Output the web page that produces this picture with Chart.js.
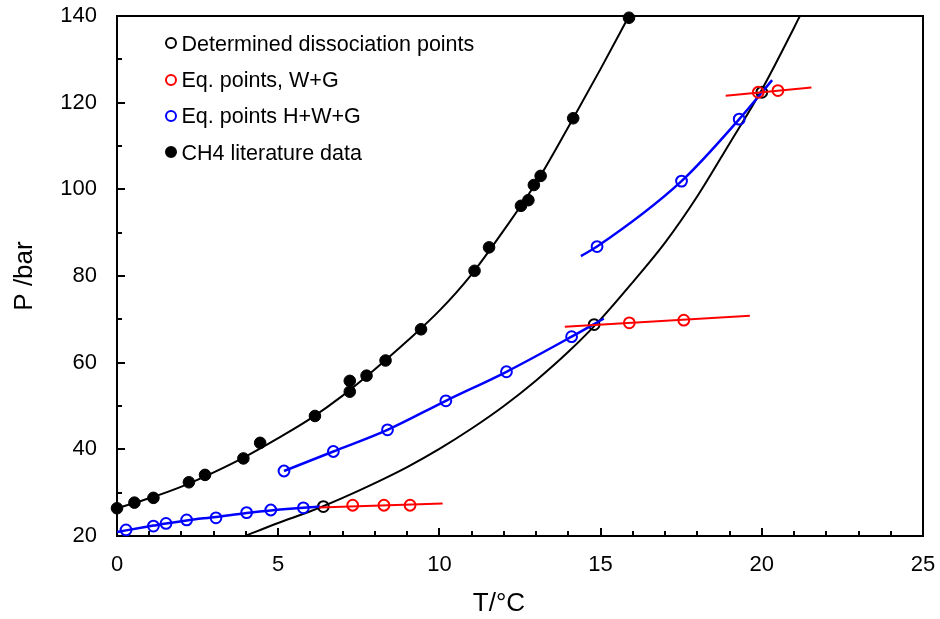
<!DOCTYPE html>
<html>
<head>
<meta charset="utf-8">
<script src="https://cdn.jsdelivr.net/npm/chart.js@4.4.1/dist/chart.umd.min.js"></script>
<style>
  html, body { margin: 0; padding: 0; background: #fff; }
  #wrap { position: relative; width: 940px; height: 619px; font-family: "Liberation Sans", Arial, sans-serif; }
  #c { position: absolute; left: 0; top: 0; }
  .leg { position: absolute; font-size: 21.5px; line-height: 22px; white-space: nowrap; color: #000; }
  .mk { position: absolute; width: 12px; height: 12px; box-sizing: border-box; border-radius: 50%; border: 2px solid #000; }
  #xtitle { position: absolute; font-size: 26px; line-height: 26px; white-space: nowrap; transform: translateX(-50%); }
</style>
</head>
<body>
<div id="wrap">
  <canvas id="c" width="940" height="619"></canvas>
  <div id="legend"></div>
  <div id="xtitle" style="left:499px; top:589px;">T/°C</div>
</div>
<script>
// ---------- data ----------
// axis ticks
const xTicks = [0, 5, 10, 15, 20, 25];
const yTicks = [20, 40, 60, 80, 100, 120, 140];

// CH4 literature data (filled black)
const litT = [0.0, 0.54, 1.13, 2.23, 2.73, 3.92, 4.44, 6.14, 7.22, 7.22, 7.74, 8.33, 9.43, 11.09, 11.54, 12.53, 12.76, 12.93, 13.14, 14.15, 15.88];
const litP = [26.4, 27.7, 28.8, 32.4, 34.1, 37.9, 41.5, 47.7, 53.3, 55.8, 57.0, 60.5, 67.7, 81.2, 86.6, 96.2, 97.5, 101.0, 103.1, 116.4, 139.6];

// Determined dissociation points (open black)
const detT = [6.40, 14.80, 20.00];
const detP = [26.8, 68.8, 122.4];

// Eq. points, W+G (open red)
const wgT = [7.31, 8.28, 9.09, 15.89, 17.58, 19.89, 20.50];
const wgP = [27.1, 27.1, 27.1, 69.2, 69.8, 122.4, 122.8];

// Eq. points H+W+G (open blue)
const hwgT = [0.28, 1.13, 1.52, 2.16, 3.07, 4.02, 4.77, 5.78, 5.18, 6.71, 8.39, 10.20, 12.08, 14.10, 14.89, 17.51, 19.30];
const hwgP = [21.4, 22.3, 22.9, 23.7, 24.2, 25.4, 26.0, 26.5, 35.0, 39.5, 44.5, 51.2, 57.9, 66.0, 86.8, 101.9, 116.2];

// curves
const litCurveT = [0, 1, 2, 3, 4, 5, 6, 7, 8, 9, 10, 11, 12, 13, 14, 15, 15.88];
const litCurveP = [26.4, 28.7, 31.4, 34.7, 38.4, 42.6, 47.1, 52.4, 58.5, 65.0, 72.0, 80.4, 90.6, 101.5, 114.4, 127.8, 140];

const detCurveT = [3.97, 5, 6, 7, 8, 9, 10, 11, 12, 13, 14, 15, 16, 17, 18, 19, 20, 21, 21.18];
const detCurveP = [20.0, 23.0, 25.7, 28.8, 32.2, 35.9, 40.1, 44.8, 50.0, 55.9, 62.5, 70.0, 78.6, 87.7, 98.4, 110.6, 123.0, 137.3, 140];

const blue1T = [0, 0.28, 1.13, 1.52, 2.16, 3.07, 4.02, 4.77, 5.78, 6.30];
const blue1P = [20.9, 21.3, 22.4, 22.9, 23.6, 24.4, 25.3, 25.9, 26.5, 26.8];
const blue2T = [5.18, 6.71, 8.39, 10.20, 12.08, 14.10, 15.10];
const blue2P = [35.0, 39.5, 44.5, 51.2, 57.9, 66.0, 70.2];
const blue3T = [14.39, 14.89, 17.51, 19.30, 20.32];
const blue3P = [84.6, 86.8, 101.9, 116.2, 125.2];

const red1T = [6.27, 10.10];
const red1P = [26.6, 27.5];
const red2T = [13.89, 19.63];
const red2P = [68.3, 70.8];
const red3T = [18.88, 21.54];
const red3P = [121.6, 123.5];

const legendLabels = ["Determined dissociation points", "Eq. points, W+G", "Eq. points H+W+G", "CH4 literature data"];

// ---------- build ----------
const pts = (xs, ys) => xs.map((x, i) => ({ x: x, y: ys[i] }));
const FONT = '"Liberation Sans", Arial, sans-serif';

function lineDs(xs, ys, color, w, order) {
  return { type: 'line', data: pts(xs, ys), borderColor: color, borderWidth: w, pointRadius: 0,
    fill: false, cubicInterpolationMode: 'monotone', showLine: true, order: order, clip: false };
}
function markDs(xs, ys, color, filled, order) {
  return { type: 'scatter', data: pts(xs, ys), showLine: false,
    pointRadius: filled ? 5.8 : 5.4, pointBorderWidth: filled ? 1 : 2,
    pointBorderColor: color, pointBackgroundColor: filled ? color : 'rgba(0,0,0,0)',
    borderColor: color, backgroundColor: filled ? color : 'rgba(0,0,0,0)', order: order, clip: false };
}

const datasets = [
  markDs(litT, litP, '#000000', true, 0),
  markDs(hwgT, hwgP, '#0000FF', false, 1),
  markDs(wgT, wgP, '#FF0000', false, 2),
  lineDs(red1T, red1P, '#FF0000', 2, 3),
  lineDs(red2T, red2P, '#FF0000', 2, 4),
  lineDs(red3T, red3P, '#FF0000', 2, 5),
  lineDs(blue1T, blue1P, '#0000FF', 2.5, 6),
  lineDs(blue2T, blue2P, '#0000FF', 2.5, 7),
  lineDs(blue3T, blue3P, '#0000FF', 2.5, 8),
  markDs(detT, detP, '#000000', false, 9),
  lineDs(litCurveT, litCurveP, '#000000', 2, 10),
  lineDs(detCurveT, detCurveP, '#000000', 2, 11)
];

const framePlugin = {
  id: 'frame',
  beforeDatasetsDraw(chart) {
    const ctx = chart.ctx, a = chart.chartArea;
    const xs = chart.scales.x, ys = chart.scales.y;
    ctx.save();
    ctx.strokeStyle = '#000';
    ctx.lineWidth = 2;
    ctx.beginPath();
    for (let v = xs.min; v <= xs.max; v += 1) {
      const px = Math.round(xs.getPixelForValue(v));
      const len = xTicks.includes(v) ? 8 : 5;
      ctx.moveTo(px, a.bottom);
      ctx.lineTo(px, a.bottom - len);
    }
    for (let v = ys.min; v <= ys.max; v += 10) {
      const py = Math.round(ys.getPixelForValue(v));
      const len = yTicks.includes(v) ? 8 : 5;
      ctx.moveTo(a.left, py);
      ctx.lineTo(a.left + len, py);
    }
    ctx.stroke();
    ctx.strokeRect(a.left, a.top, a.right - a.left, a.bottom - a.top);
    ctx.restore();
  }
};

new Chart(document.getElementById('c'), {
  type: 'scatter',
  data: { datasets: datasets },
  options: {
    responsive: false,
    animation: false,
    events: [],
    layout: { padding: { left: 0, top: 16, right: 17, bottom: 0 } },
    plugins: { legend: { display: false }, tooltip: { enabled: false } },
    scales: {
      x: {
        type: 'linear', min: 0, max: 25,
        grid: { display: false, drawTicks: false },
        border: { display: false },
        ticks: { stepSize: 5, padding: 16, color: '#000', font: { family: FONT, size: 22 },
          callback: (v) => xTicks.includes(v) ? String(v) : '' },
        afterFit: (s) => { s.height = 83; s.paddingLeft = 0; s.paddingRight = 0; }
      },
      y: {
        type: 'linear', min: 20, max: 140,
        grid: { display: false, drawTicks: false },
        border: { display: false },
        ticks: { stepSize: 20, padding: 20, color: '#000', font: { family: FONT, size: 22 },
          callback: (v) => yTicks.includes(v) ? String(v) : '' },
        title: { display: true, text: 'P /bar', color: '#000', font: { family: FONT, size: 26 }, padding: { top: 9, bottom: 0 } },
        afterFit: (s) => { s.width = 117; s.paddingTop = 0; s.paddingBottom = 0; }
      }
    }
  },
  plugins: [framePlugin]
});

// ---------- legend (inside plot area, top-left) ----------
const legendColors = ['#000000', '#FF0000', '#0000FF', '#000000'];
const legendFilled = [false, false, false, true];
const rowY = [43.3, 80, 115.7, 152.3];
const legEl = document.getElementById('legend');
legendLabels.forEach((lab, i) => {
  const m = document.createElement('div');
  m.className = 'mk';
  m.style.left = '165px';
  m.style.top = (rowY[i] - 6) + 'px';
  m.style.borderColor = legendColors[i];
  if (legendFilled[i]) m.style.background = legendColors[i];
  legEl.appendChild(m);
  const t = document.createElement('div');
  t.className = 'leg';
  t.style.left = '181.5px';
  t.style.top = (rowY[i] - 10.8) + 'px';
  t.textContent = lab;
  legEl.appendChild(t);
});
</script>
</body>
</html>
